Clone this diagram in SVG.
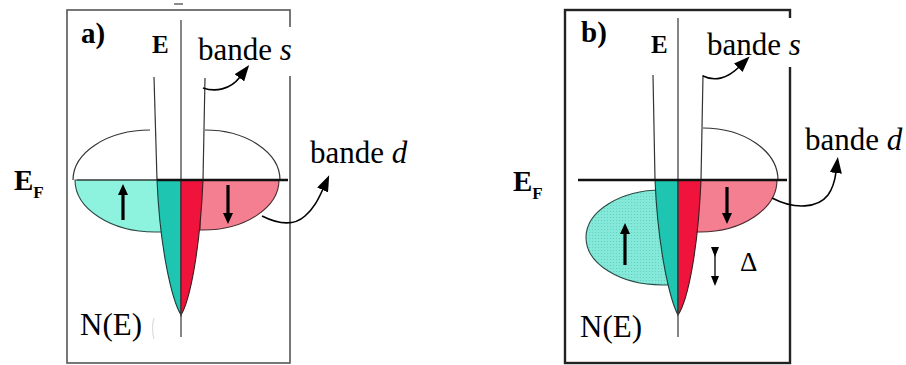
<svg xmlns="http://www.w3.org/2000/svg" width="906" height="365" viewBox="0 0 906 365">
<style>
.frameA{fill:none;stroke:#555;stroke-width:1.6}
.frameB{fill:none;stroke:#222;stroke-width:2.4}
.axis{fill:none;stroke:#444;stroke-width:1.3}
.edge{fill:none;stroke:#333;stroke-width:1.2}
.ef{stroke:#111;stroke-width:2.6}
.lc{fill:#8ef3de;stroke:#2a4a44;stroke-width:1.1}
.lcb{fill:url(#dots);stroke:#2a4a44;stroke-width:1.1}
.pk{fill:#f47f91;stroke:#4a2a2e;stroke-width:1.1}
.tl{fill:#1ec6b2;stroke:#1d3b38;stroke-width:1.1}
.rd{fill:#f0143c;stroke:#3b1d22;stroke-width:1.1}
.spin{stroke:#000;stroke-width:3.2;fill:none}
.lead{fill:none;stroke:#000;stroke-width:1.6}
text{font-family:'Liberation Serif','DejaVu Serif',serif;fill:#000}
.b{font-weight:bold}
</style>
<defs>
<marker id="ah" viewBox="0 -6 16 12" markerWidth="16" markerHeight="12" refX="1" refY="0" markerUnits="userSpaceOnUse" orient="auto">
<path d="M0,-6 L16,0 L0,6 z" fill="#000"/>
</marker>
<marker id="sp" viewBox="0 -5 11 10" markerWidth="11" markerHeight="10" refX="1" refY="0" markerUnits="userSpaceOnUse" orient="auto">
<path d="M0,-5 L11,0 L0,5 z" fill="#000"/>
</marker>
<marker id="sm" viewBox="0 -4 10 8" markerWidth="10" markerHeight="8" refX="1" refY="0" markerUnits="userSpaceOnUse" orient="auto">
<path d="M0,-4 L10,0 L0,4 z" fill="#000"/>
</marker>
<pattern id="dots" width="3" height="3" patternUnits="userSpaceOnUse">
<rect width="3" height="3" fill="#84e9d8"/>
<circle cx="1.5" cy="1.5" r="0.6" fill="#5fcfbf"/>
</pattern>
</defs>

<g id="panel-a">
<rect class="frameA" x="67" y="10" width="223" height="353"/>
<line x1="174" y1="4" x2="183" y2="4" stroke="#666" stroke-width="1.5"/>
<g id="a-dband">
<path class="edge" d="M73,180 A77,50 0 0 1 150,130"/>
<path class="edge" d="M205,130 A75,50 0 0 1 280,180"/>
<path class="lc" d="M160,180 L75,180 A80,52 0 0 0 155,232 L162,232 Z"/>
<path class="pk" d="M200,180 L279,180 A76,50 0 0 1 203,230 L200,230 Z"/>
</g>
<g id="a-sband">
<path class="tl" d="M157,180 C160,250 172,300 181,315 L181,180 Z"/>
<path class="rd" d="M203,180 C200,250 190,300 181,315 L181,180 Z"/>
<path class="edge" d="M154,77 L157,180"/>
<path class="edge" d="M205,78 L203,180"/>
</g>
<line class="axis" x1="181" y1="20" x2="181" y2="337"/>
<line x1="77" y1="180" x2="157" y2="180" stroke="#333" stroke-width="1.2"/>
<line class="ef" x1="157" y1="180" x2="288" y2="180"/>
<line class="spin" x1="123" y1="220" x2="123" y2="194" marker-end="url(#sp)"/>
<line class="spin" x1="228" y1="185" x2="228" y2="214" marker-end="url(#sp)"/>
<text class="b" x="81" y="43" font-size="29">a)</text>
<text class="b" x="152" y="53" font-size="25">E</text>
<text x="80" y="335" font-size="31">N(E)</text>
<path d="M154,318 Q151,328 154,339" fill="none" stroke="#ddd" stroke-width="1.2"/>
</g>

<g id="panel-b">
<rect class="frameB" x="565" y="10" width="225" height="353"/>
<g id="b-dband">
<path class="edge" d="M703,128 A75,52 0 0 1 778,180"/>
<path class="lcb" d="M668,190 L662,190 A76,47.5 0 0 0 662,285 L668,285 Z"/>
<path class="pk" d="M697,180 L777,180 A77,52 0 0 1 700,232 L697,232 Z"/>
</g>
<g id="b-sband">
<path class="tl" d="M655,180 C658,250 670,300 678,315 L678,180 Z"/>
<path class="rd" d="M701,180 C698,250 688,300 678,315 L678,180 Z"/>
<path class="edge" d="M653,75 L655,180"/>
<path class="edge" d="M703,75 L701,180"/>
</g>
<line class="axis" x1="678" y1="18" x2="678" y2="337"/>
<line class="ef" x1="578" y1="180" x2="787" y2="180"/>
<line class="spin" x1="625" y1="265" x2="625" y2="233" marker-end="url(#sp)"/>
<line class="spin" x1="727" y1="187" x2="727" y2="214" marker-end="url(#sp)"/>
<line x1="715" y1="248" x2="715" y2="277" stroke="#000" stroke-width="1.3" marker-start="url(#sm)" marker-end="url(#sm)"/>
<text x="740" y="271" font-size="27">Δ</text>
<text class="b" x="581" y="42" font-size="29">b)</text>
<text class="b" x="651" y="53" font-size="25">E</text>
<text x="580" y="337" font-size="31">N(E)</text>
</g>

<g id="labels">
<text class="b" x="14" y="190" font-size="29">E<tspan font-size="17" dy="8">F</tspan></text>
<text class="b" x="513" y="191" font-size="29">E<tspan font-size="17" dy="8">F</tspan></text>
<rect x="195" y="27" width="102" height="49" fill="#fff"/>
<text x="198" y="60" font-size="31">bande <tspan font-style="italic">s</tspan></text>
<rect x="700" y="18" width="104" height="49" fill="#fff"/>
<text x="707" y="55" font-size="31">bande <tspan font-style="italic">s</tspan></text>
<text x="310" y="163" font-size="31">bande <tspan font-style="italic">d</tspan></text>
<text x="805" y="150" font-size="31">bande <tspan font-style="italic">d</tspan></text>
</g>

<g id="connectors">
<path class="lead" d="M203,88 C215,92 230,90 240,77" marker-end="url(#ah)"/>
<path class="lead" d="M703,76 C715,82 728,78 739,67" marker-end="url(#ah)"/>
<path class="lead" d="M262,216 C280,225 295,225 305,216 C314,208 318,200 323,189" marker-end="url(#ah)"/>
<path class="lead" d="M772,198 C795,210 818,208 828,195 C833,188 835,180 836,172" marker-end="url(#ah)"/>
</g>
</svg>
